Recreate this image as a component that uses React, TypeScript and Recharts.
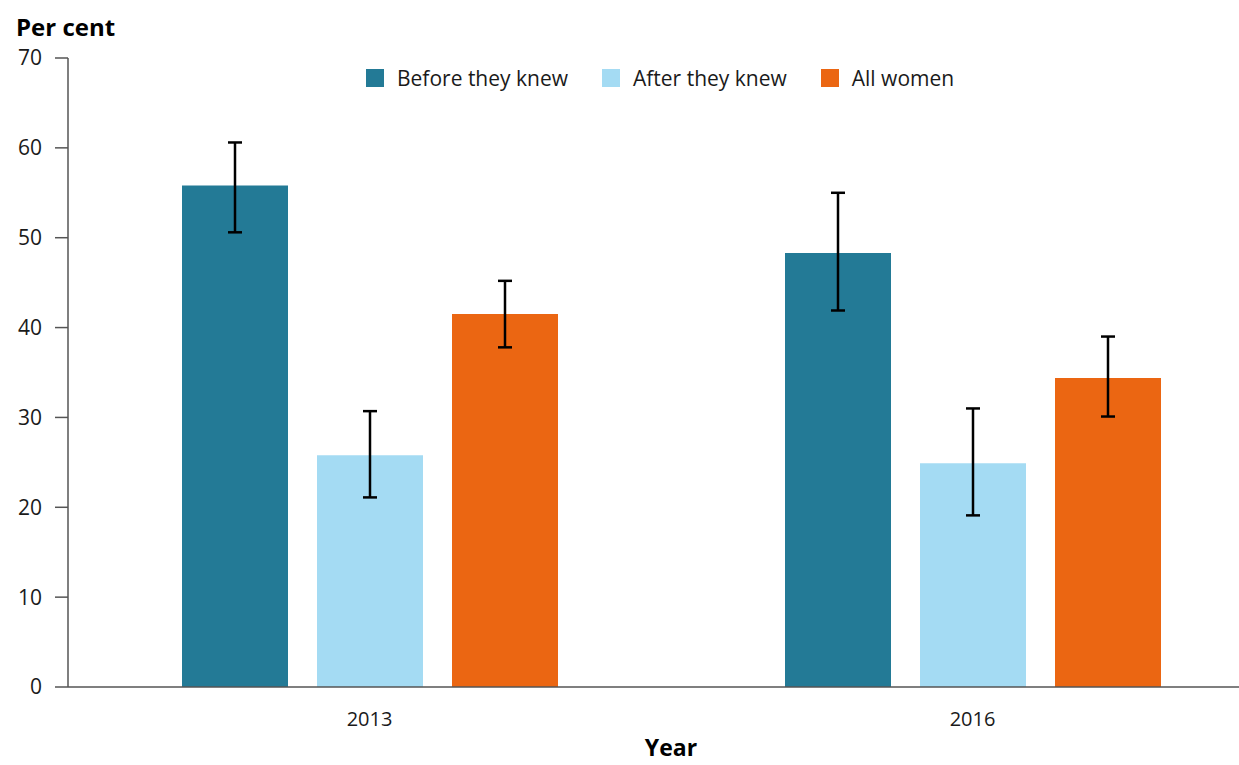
import React from 'react';
import { BarChart, Bar, XAxis, YAxis, ErrorBar, Label } from 'recharts';

const years = ['2013', '2016'];

const beforeValues = [55.8, 48.3];
const beforeLow = [50.6, 41.9];
const beforeHigh = [60.6, 55.0];

const afterValues = [25.8, 24.9];
const afterLow = [21.1, 19.1];
const afterHigh = [30.7, 31.0];

const allValues = [41.5, 34.4];
const allLow = [37.8, 30.1];
const allHigh = [45.2, 39.0];

const yTicks = [0, 10, 20, 30, 40, 50, 60, 70];

const series = [
    { key: 'before', name: 'Before they knew', color: '#237A96' },
    { key: 'after', name: 'After they knew', color: '#A4DBF3' },
    { key: 'all', name: 'All women', color: '#EB6612' },
];

const FONT = '"Open Sans", sans-serif';

const data = years.map((year, i) => ({
    year,
    before: beforeValues[i],
    beforeErr: [beforeValues[i] - beforeLow[i], beforeHigh[i] - beforeValues[i]],
    after: afterValues[i],
    afterErr: [afterValues[i] - afterLow[i], afterHigh[i] - afterValues[i]],
    all: allValues[i],
    allErr: [allValues[i] - allLow[i], allHigh[i] - allValues[i]],
}));

// legend is plain HTML over the chart so it doesn't eat plot space
const ChartLegend = () => (
    <div style={{ position: 'absolute', top: 66, left: 366, display: 'flex', alignItems: 'center', fontFamily: FONT, fontSize: 21, lineHeight: '24px', color: '#1a1a1a' }}>
        {series.map(s => (
            <div key={s.key} style={{ display: 'flex', alignItems: 'center', marginRight: 34 }}>
                <span style={{ display: 'inline-block', width: 18, height: 18, background: s.color, marginRight: 13 }} />
                <span>{s.name}</span>
            </div>
        ))}
    </div>
);

const App: React.FC = () => {
    return (
        <div style={{ position: 'absolute', left: 0, top: 0, width: 1239, height: 765, overflow: 'hidden', background: '#fff' }}>
            <BarChart
                width={1274}
                height={765}
                data={data}
                margin={{ top: 58, right: 0, left: 0, bottom: 8 }}
                barSize={106}
                barGap={29}
            >
                <XAxis
                    dataKey="year"
                    height={70}
                    tickLine={false}
                    tickSize={0}
                    tickMargin={25}
                    axisLine={{ stroke: '#555', strokeWidth: 1.5 }}
                    tick={{ fontFamily: FONT, fontSize: 20, fill: '#1a1a1a' }}
                >
                    <Label
                        value="Year"
                        position="insideBottom"
                        offset={1}
                        style={{ fontFamily: FONT, fontSize: 23, fontWeight: 700, fill: '#000' }}
                    />
                </XAxis>
                <YAxis
                    width={68}
                    domain={[0, 70]}
                    ticks={yTicks}
                    interval={0}
                    tickSize={13}
                    tickMargin={13}
                    axisLine={{ stroke: '#555', strokeWidth: 1.5 }}
                    tickLine={{ stroke: '#555', strokeWidth: 1.5 }}
                    tick={{ fontFamily: FONT, fontSize: 21, fill: '#1a1a1a' }}
                >
                    <Label
                        content={() => (
                            <text x={16} y={36} fontFamily={FONT} fontSize={24} fontWeight={700} fill="#000">
                                Per cent
                            </text>
                        )}
                    />
                </YAxis>
                {series.map(s => (
                    <Bar key={s.key} dataKey={s.key} name={s.name} fill={s.color} isAnimationActive={false}>
                        <ErrorBar dataKey={`${s.key}Err`} width={7} stroke="#000" strokeWidth={2.5} direction="y" />
                    </Bar>
                ))}
            </BarChart>
            <ChartLegend />
        </div>
    );
};

export default App;
